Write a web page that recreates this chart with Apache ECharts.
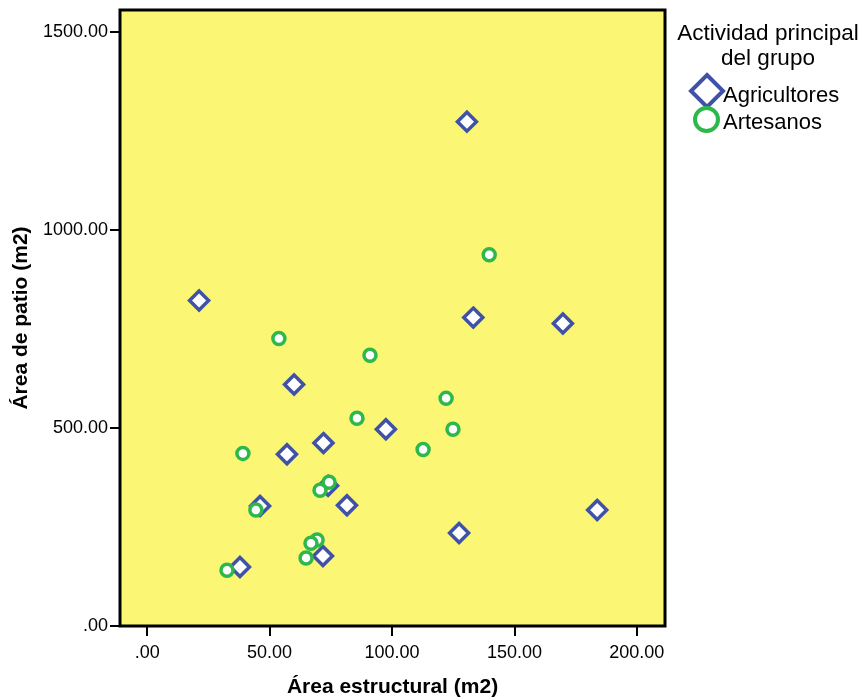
<!DOCTYPE html>
<html>
<head>
<meta charset="utf-8">
<script src="https://cdn.jsdelivr.net/npm/echarts@6/dist/echarts.min.js"></script>
<style>html,body{margin:0;padding:0;background:#fff;}#c{width:865px;height:700px;}</style>
</head>
<body>
<div id="c"></div>
<script>
const seriesNames = ['Agricultores', 'Artesanos'];
const agricultores = [
  [130.6, 1274], [133.2, 779], [169.8, 764], [21.2, 822], [60.0, 610],
  [97.5, 497], [72.0, 462], [57.1, 434], [73.9, 354], [46.1, 303],
  [81.6, 305], [183.8, 293], [127.4, 235], [71.8, 177], [37.9, 149]
];
const artesanos = [
  [139.7, 938], [53.8, 726], [91.0, 684], [85.7, 525], [122.1, 575],
  [124.9, 497], [112.7, 446], [39.1, 436], [74.3, 363], [70.6, 343],
  [44.4, 293], [69.4, 217], [66.9, 209], [64.9, 172], [32.6, 141]
];
const xTicks = [0, 50, 100, 150, 200];
const yTicks = [0, 500, 1000, 1500];
const legendTitle = 'Actividad principal\ndel grupo';
const xName = 'Área estructural (m2)';
const yName = 'Área de patio (m2)';

const FONT = '"Liberation Sans", Arial, sans-serif';
const fmt = v => (v === 0 ? '.00' : v.toFixed(2));
const BLUE = '#3f52a8';
const GREEN = '#2cb84a';

const chart = echarts.init(document.getElementById('c'), null, {renderer: 'canvas'});
chart.setOption({
  animation: false,
  backgroundColor: '#ffffff',
  textStyle: {fontFamily: FONT, color: '#000'},
  title: {
    text: legendTitle,
    left: 768, top: 21, padding: 0,
    textAlign: 'center',
    textStyle: {fontFamily: FONT, fontSize: 22.5, fontWeight: 'normal', color: '#000', lineHeight: 25}
  },
  legend: [
    {
      data: [seriesNames[0]], left: 689, top: 73, padding: 0, itemWidth: 32, itemHeight: 32,
      formatter: '{a|{name}}',
      textStyle: {fontFamily: FONT, fontSize: 22, color: '#000',
        rich: {a: {fontFamily: FONT, fontSize: 22, color: '#000', padding: [10, 0, 0, -5]}}},
      itemStyle: {borderWidth: 4}
    },
    {
      data: [seriesNames[1]], left: 693, top: 106, padding: 0, itemWidth: 23, itemHeight: 23,
      formatter: '{a|{name}}',
      textStyle: {fontFamily: FONT, fontSize: 22, color: '#000',
        rich: {a: {fontFamily: FONT, fontSize: 22, color: '#000', padding: [6, 0, 0, 0]}}},
      itemStyle: {borderWidth: 4}
    }
  ],
  grid: {
    left: 120, right: 200, top: 10, bottom: 74,
    outerBoundsMode: 'none',
    show: true, backgroundColor: '#fbf674', borderColor: '#000', borderWidth: 3
  },
  xAxis: {
    type: 'value', min: -11.1, max: 211.5,
    name: xName, nameLocation: 'middle', nameGap: 51,
    nameTextStyle: {fontFamily: FONT, fontSize: 21, fontWeight: 'bold', color: '#000'},
    splitLine: {show: false},
    axisLine: {show: false, onZero: false},
    axisTick: {show: true, length: 10, customValues: xTicks, lineStyle: {color: '#000', width: 2}},
    axisLabel: {customValues: xTicks, formatter: fmt, margin: 18, fontFamily: FONT, fontSize: 18, color: '#000'}
  },
  yAxis: {
    type: 'value', min: 0, max: 1556,
    name: yName, nameLocation: 'middle', nameGap: 87,
    nameTextStyle: {fontFamily: FONT, fontSize: 21, fontWeight: 'bold', color: '#000'},
    splitLine: {show: false},
    axisLine: {show: false, onZero: false},
    axisTick: {show: true, length: 10, customValues: yTicks, lineStyle: {color: '#000', width: 2}},
    axisLabel: {customValues: yTicks, formatter: fmt, margin: 12, fontFamily: FONT, fontSize: 18, color: '#000'}
  },
  series: [
    {
      name: seriesNames[0], type: 'scatter', symbol: 'diamond', symbolSize: 19,
      data: agricultores,
      itemStyle: {color: '#ffffff', borderColor: BLUE, borderWidth: 3.5, opacity: 1}
    },
    {
      name: seriesNames[1], type: 'scatter', symbol: 'circle', symbolSize: 12,
      data: artesanos,
      itemStyle: {color: '#ffffff', borderColor: GREEN, borderWidth: 3.5, opacity: 1}
    }
  ]
});
</script>
</body>
</html>
